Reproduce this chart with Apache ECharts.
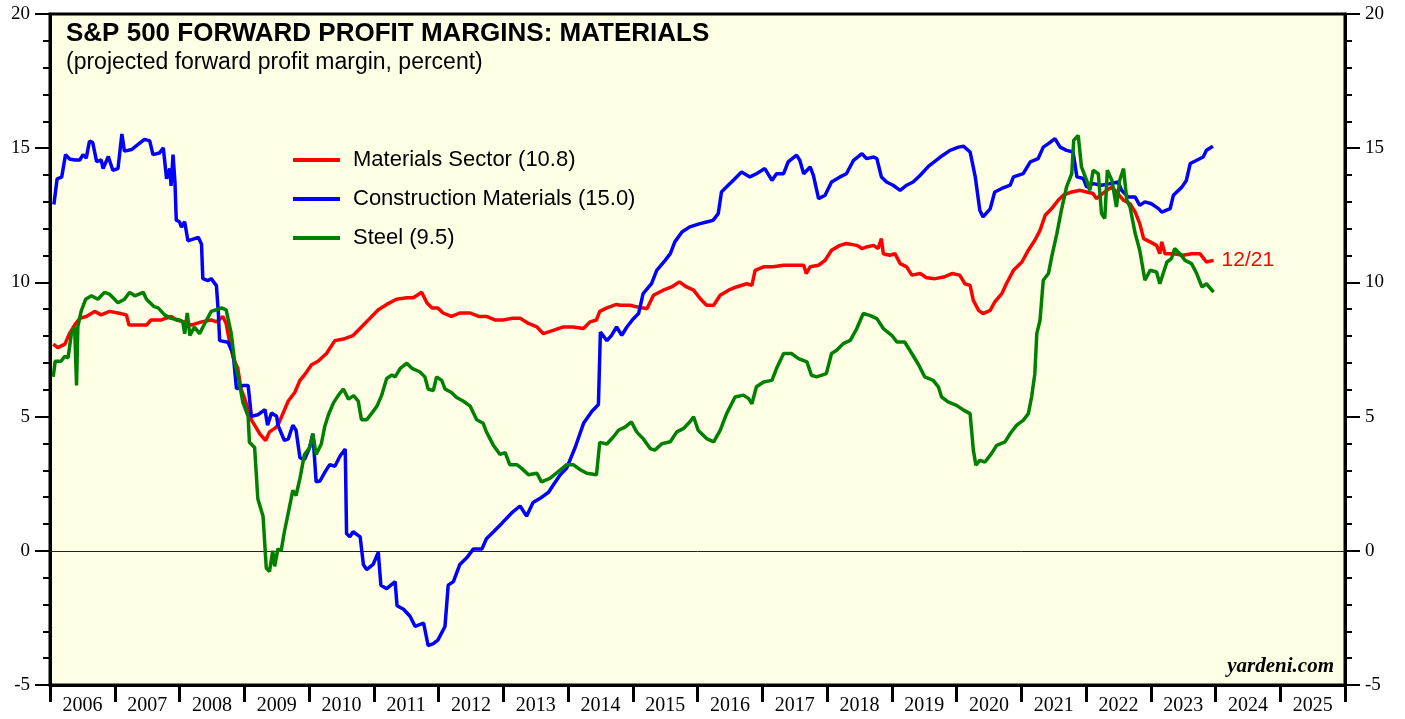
<!DOCTYPE html>
<html>
<head>
<meta charset="utf-8">
<script src="https://cdn.jsdelivr.net/npm/echarts@6/dist/echarts.min.js"></script>
<style>
  html, body { margin: 0; padding: 0; background: #fff; }
  #chart { width: 1405px; height: 719px; }
</style>
</head>
<body>
<div id="chart"></div>
<script>
// x values are decimal years, y values are percent
const years = ['2006','2007','2008','2009','2010','2011','2012','2013','2014','2015',
  '2016','2017','2018','2019','2020','2021','2022','2023','2024','2025'];

const materialsSector = [
  [2006.05,7.7],[2006.12,7.57],[2006.23,7.7],[2006.3,8.09],[2006.38,8.41],[2006.46,8.66],[2006.56,8.73],
  [2006.69,8.92],[2006.79,8.79],[2006.92,8.92],[2007.05,8.86],[2007.18,8.79],[2007.22,8.41],[2007.36,8.41],
  [2007.49,8.41],[2007.56,8.6],[2007.72,8.6],[2007.87,8.73],[2007.95,8.6],[2008.08,8.53],[2008.18,8.41],
  [2008.34,8.53],[2008.49,8.6],[2008.57,8.53],[2008.67,8.73],[2008.72,8.47],[2008.77,7.83],[2008.83,7.19],
  [2008.9,6.8],[2008.95,6.03],[2009.01,5.65],[2009.06,5.26],[2009.11,4.88],[2009.16,4.68],[2009.24,4.36],
  [2009.33,4.11],[2009.39,4.43],[2009.47,4.56],[2009.52,4.68],[2009.6,5.13],[2009.68,5.58],[2009.78,5.9],
  [2009.86,6.35],[2009.93,6.55],[2010.04,6.93],[2010.14,7.06],[2010.27,7.35],[2010.4,7.83],[2010.53,7.89],
  [2010.68,8.02],[2010.81,8.34],[2010.94,8.66],[2011.07,8.98],[2011.2,9.18],[2011.35,9.37],[2011.51,9.43],
  [2011.61,9.43],[2011.74,9.63],[2011.82,9.24],[2011.9,9.05],[2011.99,9.05],[2012.07,8.86],[2012.2,8.73],
  [2012.33,8.86],[2012.49,8.86],[2012.62,8.73],[2012.74,8.73],[2012.87,8.6],[2013.0,8.6],[2013.13,8.66],
  [2013.26,8.66],[2013.39,8.47],[2013.52,8.34],[2013.62,8.09],[2013.77,8.21],[2013.93,8.34],[2014.08,8.34],
  [2014.24,8.28],[2014.34,8.53],[2014.44,8.6],[2014.49,8.92],[2014.6,9.05],[2014.75,9.18],[2014.8,9.15],
  [2014.96,9.15],[2015.06,9.09],[2015.22,9.02],[2015.32,9.52],[2015.47,9.71],[2015.6,9.83],[2015.72,10.02],
  [2015.83,9.83],[2015.94,9.71],[2016.04,9.4],[2016.14,9.15],[2016.25,9.15],[2016.35,9.52],[2016.48,9.71],
  [2016.6,9.83],[2016.76,9.95],[2016.84,9.89],[2016.89,10.45],[2017.02,10.58],[2017.17,10.58],[2017.33,10.64],
  [2017.53,10.64],[2017.64,10.64],[2017.68,10.33],[2017.74,10.58],[2017.87,10.64],[2017.97,10.82],[2018.07,11.2],
  [2018.2,11.38],[2018.3,11.45],[2018.46,11.38],[2018.54,11.26],[2018.61,11.32],[2018.72,11.38],[2018.79,11.26],
  [2018.84,11.63],[2018.87,11.07],[2018.97,11.01],[2019.05,11.07],[2019.13,10.7],[2019.23,10.58],[2019.31,10.27],
  [2019.44,10.33],[2019.54,10.17],[2019.67,10.14],[2019.8,10.2],[2019.93,10.33],[2020.05,10.27],[2020.13,9.95],
  [2020.21,9.89],[2020.26,9.33],[2020.34,8.96],[2020.41,8.84],[2020.52,8.96],[2020.59,9.27],[2020.7,9.58],
  [2020.77,9.95],[2020.88,10.45],[2021.01,10.76],[2021.11,11.2],[2021.21,11.57],[2021.29,11.94],[2021.37,12.5],
  [2021.47,12.75],[2021.57,13.06],[2021.65,13.25],[2021.78,13.37],[2021.91,13.43],[2022.01,13.37],[2022.11,13.31],
  [2022.16,13.12],[2022.29,13.37],[2022.4,13.56],[2022.47,13.37],[2022.58,13.06],[2022.68,12.93],[2022.76,12.62],
  [2022.83,12.19],[2022.89,11.63],[2022.99,11.51],[2023.09,11.38],[2023.14,11.07],[2023.17,11.51],[2023.22,11.07],
  [2023.35,11.07],[2023.5,11.01],[2023.63,11.07],[2023.76,11.07],[2023.86,10.76],[2023.97,10.82]
];

const constructionMaterials = [
  [2006.06,12.9],[2006.11,13.86],[2006.18,13.92],[2006.24,14.76],[2006.3,14.6],[2006.38,14.56],[2006.46,14.56],
  [2006.51,14.76],[2006.56,14.63],[2006.61,15.27],[2006.66,15.21],[2006.72,14.5],[2006.79,14.56],[2006.82,14.24],
  [2006.9,14.69],[2006.97,14.18],[2007.05,14.24],[2007.11,15.53],[2007.15,14.89],[2007.26,14.95],[2007.36,15.14],
  [2007.46,15.33],[2007.54,15.27],[2007.59,14.76],[2007.69,14.82],[2007.75,15.01],[2007.8,13.86],[2007.85,14.24],
  [2007.87,13.6],[2007.9,14.76],[2007.93,13.73],[2007.95,12.32],[2008.0,12.26],[2008.03,12.06],[2008.08,12.26],
  [2008.13,11.55],[2008.21,11.61],[2008.29,11.68],[2008.34,11.42],[2008.36,10.14],[2008.44,10.07],[2008.49,10.14],
  [2008.57,9.88],[2008.6,8.86],[2008.62,7.83],[2008.75,7.77],[2008.83,7.32],[2008.88,6.03],[2008.98,6.16],
  [2009.06,6.16],[2009.11,5.01],[2009.21,5.07],[2009.32,5.26],[2009.36,4.68],[2009.42,5.13],[2009.5,5.01],
  [2009.52,4.68],[2009.62,4.11],[2009.68,4.17],[2009.75,4.68],[2009.8,4.49],[2009.86,3.47],[2009.93,3.4],
  [2010.01,3.85],[2010.06,4.36],[2010.11,2.57],[2010.17,2.6],[2010.25,2.95],[2010.32,3.21],[2010.4,3.15],
  [2010.48,3.53],[2010.56,3.79],[2010.58,0.64],[2010.63,0.52],[2010.68,0.71],[2010.79,0.52],[2010.84,-0.51],
  [2010.89,-0.7],[2010.99,-0.51],[2011.07,-0.06],[2011.11,-1.28],[2011.2,-1.41],[2011.33,-1.15],[2011.36,-2.05],
  [2011.46,-2.18],[2011.56,-2.44],[2011.64,-2.82],[2011.77,-2.69],[2011.84,-3.53],[2011.92,-3.46],[2011.99,-3.33],
  [2012.1,-2.82],[2012.15,-1.28],[2012.23,-1.15],[2012.33,-0.51],[2012.44,-0.25],[2012.54,0.07],[2012.67,0.07],
  [2012.74,0.45],[2012.85,0.71],[2012.98,1.03],[2013.13,1.41],[2013.26,1.67],[2013.36,1.29],[2013.46,1.8],
  [2013.59,1.99],[2013.7,2.18],[2013.77,2.44],[2013.88,2.83],[2013.98,3.08],[2014.11,3.85],[2014.24,4.75],
  [2014.37,5.2],[2014.47,5.45],[2014.5,8.15],[2014.6,7.83],[2014.67,8.02],[2014.75,8.34],[2014.83,8.03],
  [2014.91,8.34],[2015.01,8.65],[2015.09,8.84],[2015.16,9.58],[2015.29,9.95],[2015.37,10.45],[2015.5,10.82],
  [2015.58,11.07],[2015.65,11.51],[2015.76,11.88],[2015.88,12.07],[2016.04,12.19],[2016.14,12.25],[2016.24,12.31],
  [2016.32,12.56],[2016.37,13.37],[2016.45,13.56],[2016.55,13.8],[2016.68,14.11],[2016.81,13.93],[2016.91,14.05],
  [2017.04,14.24],[2017.15,13.8],[2017.22,14.05],[2017.33,14.05],[2017.4,14.49],[2017.53,14.74],[2017.58,14.55],
  [2017.64,14.05],[2017.74,14.3],[2017.79,13.99],[2017.87,13.12],[2017.97,13.25],[2018.07,13.74],[2018.2,13.93],
  [2018.3,14.05],[2018.41,14.55],[2018.54,14.8],[2018.61,14.61],[2018.72,14.67],[2018.77,14.61],[2018.84,13.93],
  [2018.92,13.74],[2019.02,13.62],[2019.13,13.43],[2019.23,13.62],[2019.33,13.74],[2019.44,13.99],[2019.57,14.33],
  [2019.75,14.67],[2019.9,14.92],[2020.03,15.04],[2020.11,15.07],[2020.21,14.86],[2020.29,13.93],[2020.36,12.69],
  [2020.41,12.44],[2020.52,12.74],[2020.59,13.37],[2020.7,13.5],[2020.83,13.62],[2020.88,13.93],[2021.03,14.05],
  [2021.14,14.49],[2021.26,14.61],[2021.34,15.04],[2021.42,15.17],[2021.52,15.36],[2021.6,15.04],[2021.7,14.92],
  [2021.8,14.86],[2021.86,13.93],[2021.96,13.87],[2022.01,13.55],[2022.11,13.68],[2022.24,13.62],[2022.37,13.68],
  [2022.5,13.74],[2022.55,13.43],[2022.65,13.18],[2022.76,13.18],[2022.83,12.87],[2022.91,13.0],[2023.01,12.93],
  [2023.12,12.75],[2023.17,12.62],[2023.3,12.75],[2023.35,13.25],[2023.48,13.55],[2023.55,13.8],[2023.61,14.43],
  [2023.71,14.55],[2023.81,14.67],[2023.86,14.92],[2023.96,15.07]
];

const steel = [
  [2006.05,6.48],[2006.08,7.06],[2006.17,7.06],[2006.23,7.25],[2006.28,7.19],[2006.33,8.09],[2006.38,8.34],
  [2006.41,6.16],[2006.43,8.34],[2006.48,8.92],[2006.55,9.37],[2006.64,9.5],[2006.74,9.37],[2006.84,9.63],
  [2006.92,9.56],[2007.05,9.24],[2007.15,9.37],[2007.23,9.63],[2007.31,9.5],[2007.44,9.63],[2007.49,9.37],
  [2007.6,9.11],[2007.67,9.05],[2007.77,8.79],[2007.87,8.66],[2008.0,8.6],[2008.05,8.53],[2008.08,8.09],
  [2008.12,8.86],[2008.16,8.02],[2008.23,8.34],[2008.31,8.09],[2008.39,8.47],[2008.49,8.92],[2008.57,8.98],
  [2008.65,9.05],[2008.72,8.98],[2008.8,8.09],[2008.85,7.06],[2008.9,6.55],[2008.98,5.52],[2009.06,5.01],
  [2009.08,4.04],[2009.16,3.85],[2009.21,1.93],[2009.29,1.29],[2009.34,-0.64],[2009.39,-0.77],[2009.44,0.0],
  [2009.47,-0.58],[2009.52,0.07],[2009.57,0.0],[2009.62,0.71],[2009.68,1.41],[2009.75,2.25],[2009.8,2.06],
  [2009.86,2.7],[2009.93,3.59],[2010.01,3.85],[2010.06,4.36],[2010.11,3.59],[2010.19,3.98],[2010.24,4.6],
  [2010.3,5.07],[2010.38,5.52],[2010.45,5.78],[2010.53,6.03],[2010.61,5.65],[2010.69,5.78],[2010.76,5.58],
  [2010.81,4.88],[2010.89,4.88],[2010.97,5.13],[2011.05,5.39],[2011.12,5.78],[2011.2,6.42],[2011.28,6.55],
  [2011.33,6.48],[2011.41,6.8],[2011.51,6.99],[2011.59,6.8],[2011.71,6.67],[2011.79,6.48],[2011.84,6.03],
  [2011.92,5.97],[2011.97,6.48],[2012.05,6.35],[2012.1,6.03],[2012.2,5.9],[2012.28,5.71],[2012.38,5.58],
  [2012.49,5.39],[2012.59,4.88],[2012.69,4.75],[2012.74,4.43],[2012.85,3.92],[2012.95,3.59],[2013.03,3.66],
  [2013.1,3.21],[2013.21,3.21],[2013.28,3.08],[2013.39,2.83],[2013.52,2.89],[2013.59,2.57],[2013.72,2.7],
  [2013.85,2.95],[2013.98,3.21],[2014.08,3.21],[2014.19,3.02],[2014.29,2.89],[2014.44,2.83],[2014.49,4.04],
  [2014.6,3.98],[2014.7,4.24],[2014.78,4.49],[2014.88,4.61],[2014.98,4.8],[2015.06,4.43],[2015.16,4.18],
  [2015.27,3.81],[2015.34,3.75],[2015.45,3.99],[2015.58,4.06],[2015.68,4.43],[2015.78,4.55],[2015.88,4.8],
  [2015.94,4.99],[2016.01,4.49],[2016.14,4.18],[2016.25,4.06],[2016.35,4.49],[2016.45,5.11],[2016.58,5.73],
  [2016.71,5.8],[2016.79,5.67],[2016.84,5.48],[2016.91,6.11],[2017.02,6.29],[2017.15,6.35],[2017.22,6.79],
  [2017.33,7.35],[2017.45,7.35],[2017.56,7.16],[2017.69,7.04],[2017.76,6.54],[2017.84,6.48],[2017.99,6.6],
  [2018.07,7.35],[2018.15,7.47],[2018.25,7.72],[2018.36,7.84],[2018.46,8.28],[2018.56,8.84],[2018.66,8.77],
  [2018.77,8.65],[2018.87,8.28],[2019.0,8.03],[2019.08,7.78],[2019.2,7.78],[2019.31,7.35],[2019.41,6.95],
  [2019.51,6.48],[2019.64,6.35],[2019.72,6.11],[2019.77,5.73],[2019.87,5.55],[2020.0,5.42],[2020.11,5.24],
  [2020.21,5.11],[2020.26,3.75],[2020.3,3.19],[2020.36,3.37],[2020.44,3.31],[2020.54,3.62],[2020.62,3.93],
  [2020.75,4.06],[2020.83,4.37],[2020.93,4.68],[2021.03,4.86],[2021.11,5.11],[2021.16,5.73],[2021.21,6.6],
  [2021.24,8.09],[2021.29,8.59],[2021.34,10.08],[2021.42,10.33],[2021.47,10.95],[2021.55,11.82],[2021.62,12.69],
  [2021.7,13.56],[2021.78,14.05],[2021.81,15.29],[2021.88,15.48],[2021.93,14.3],[2022.01,13.8],[2022.06,13.43],
  [2022.11,14.18],[2022.19,14.05],[2022.24,12.56],[2022.29,12.38],[2022.33,14.18],[2022.4,13.8],[2022.47,12.81],
  [2022.52,13.8],[2022.58,14.24],[2022.63,13.06],[2022.68,12.81],[2022.76,11.82],[2022.83,11.2],[2022.91,10.08],
  [2022.99,10.45],[2023.09,10.39],[2023.14,9.95],[2023.25,10.76],[2023.32,10.89],[2023.37,11.26],[2023.45,11.07],
  [2023.53,10.82],[2023.63,10.7],[2023.71,10.33],[2023.79,9.83],[2023.86,9.95],[2023.97,9.64]
];

const serif = "'Times New Roman', 'Liberation Serif', serif";
const sans = "Arial, 'Liberation Sans', sans-serif";

const chart = echarts.init(document.getElementById('chart'));

function yAxisDef(pos) {
  return {
    type: 'value',
    position: pos,
    min: -5,
    max: 20,
    interval: 5,
    axisLine: { show: true, onZero: false, lineStyle: { color: '#000', width: 3 } },
    axisTick: { show: true, length: 15, lineStyle: { color: '#000', width: 2 } },
    minorTick: { show: true, splitNumber: 5, length: 7, lineStyle: { color: '#000', width: 2 } },
    splitLine: { show: false },
    axisLabel: { color: '#000', fontFamily: serif, fontSize: 19, margin: 20 }
  };
}

const option = {
  animation: false,
  backgroundColor: '#fff',
  title: {
    text: 'S&P 500 FORWARD PROFIT MARGINS: MATERIALS',
    subtext: '(projected forward profit margin, percent)',
    left: 66,
    top: 19,
    padding: 0,
    itemGap: 2,
    textStyle: { fontFamily: sans, fontSize: 26, fontWeight: 'bold', color: '#000', lineHeight: 29 },
    subtextStyle: { fontFamily: sans, fontSize: 23, color: '#000', lineHeight: 26 }
  },
  legend: {
    orient: 'vertical',
    left: 293,
    top: 149,
    icon: 'rect',
    itemWidth: 47,
    itemHeight: 4,
    itemGap: 17,
    padding: 0,
    textStyle: { fontFamily: sans, fontSize: 22, color: '#000', padding: [0, 0, 0, 8] }
  },
  grid: {
    left: 50, right: 60, top: 14, bottom: 34,
    show: true,
    backgroundColor: '#ffffe6',
    borderColor: '#000',
    borderWidth: 3
  },
  xAxis: [
    {
      type: 'value',
      min: 2006,
      max: 2026,
      show: false
    },
    {
      type: 'category',
      data: years,
      position: 'bottom',
      boundaryGap: true,
      axisLine: { show: true, onZero: false, lineStyle: { color: '#000', width: 3 } },
      axisTick: { show: true, length: 17, lineStyle: { color: '#000', width: 3 } },
      axisLabel: { color: '#000', fontFamily: serif, fontSize: 20, margin: 11 },
      splitLine: { show: false }
    }
  ],
  yAxis: [yAxisDef('left'), yAxisDef('right')],
  graphic: [
    {
      type: 'text',
      right: 71,
      top: 656,
      style: {
        text: 'yardeni.com',
        font: "italic bold 21px 'Times New Roman', 'Liberation Serif', serif",
        fill: '#000'
      }
    }
  ],
  series: [
    {
      name: 'Materials Sector (10.8)',
      type: 'line',
      xAxisIndex: 0,
      yAxisIndex: 0,
      data: materialsSector,
      showSymbol: false,
      color: '#ff0000',
      lineStyle: { width: 3.5, color: '#ff0000' },
      endLabel: {
        show: true,
        formatter: '12/21',
        color: '#ff0000',
        fontFamily: sans,
        fontSize: 21,
        distance: 8
      },
      markLine: {
        silent: true,
        symbol: ['none', 'none'],
        label: { show: false },
        lineStyle: { color: '#222', width: 1, type: 'solid' },
        data: [{ yAxis: 0 }],
        z: 1
      }
    },
    {
      name: 'Construction Materials (15.0)',
      type: 'line',
      xAxisIndex: 0,
      yAxisIndex: 0,
      data: constructionMaterials,
      showSymbol: false,
      color: '#0000ff',
      lineStyle: { width: 3.5, color: '#0000ff' }
    },
    {
      name: 'Steel (9.5)',
      type: 'line',
      xAxisIndex: 0,
      yAxisIndex: 0,
      data: steel,
      showSymbol: false,
      color: '#008000',
      lineStyle: { width: 3.5, color: '#008000' }
    }
  ]
};

chart.setOption(option);
</script>
</body>
</html>
